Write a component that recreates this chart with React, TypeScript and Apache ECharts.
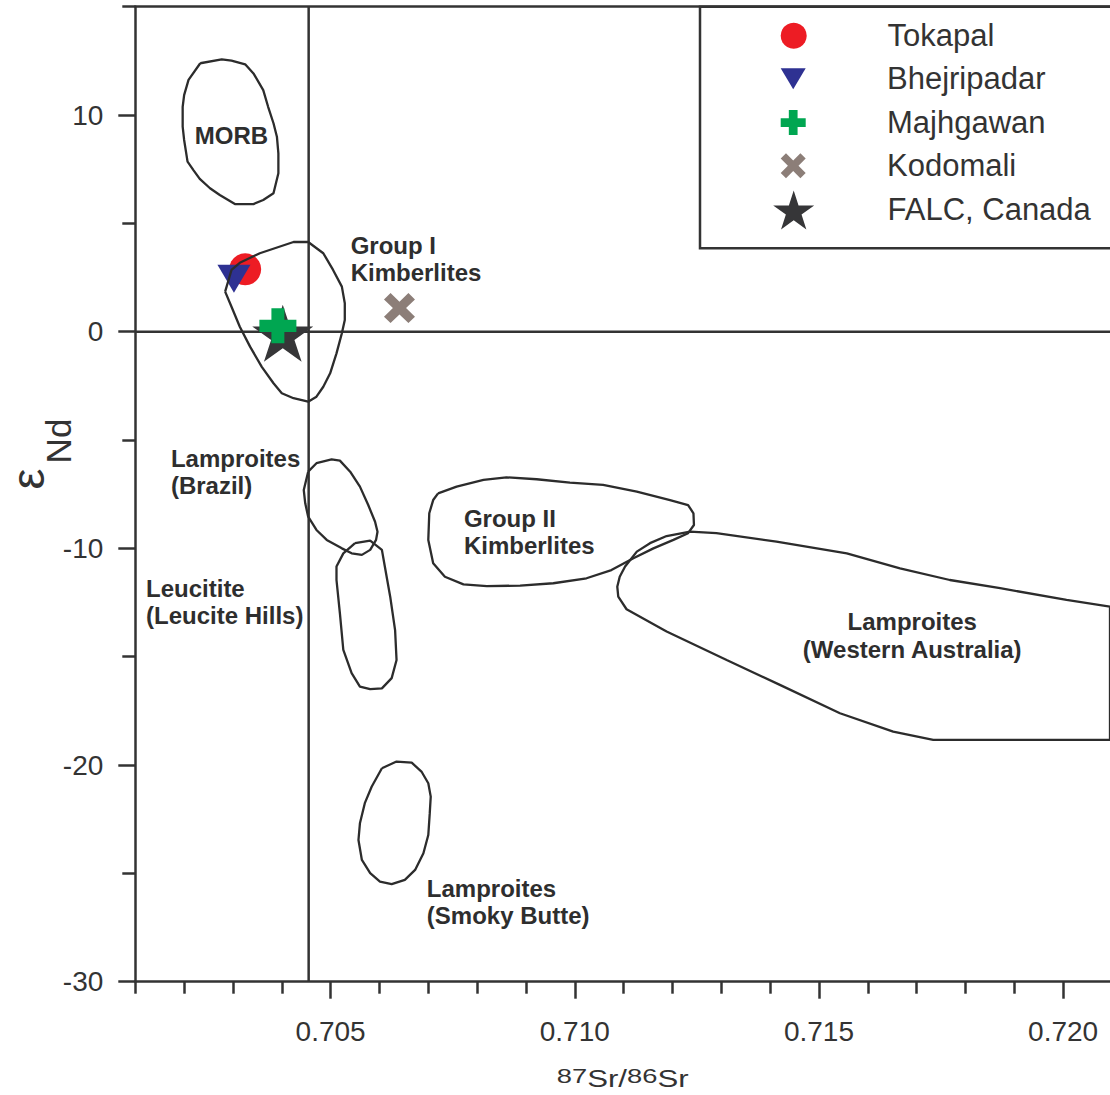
import React, { useEffect, useRef } from "react";
import * as echarts from "echarts";

// ---------- axes ----------
const X_MIN = 0.701;
const X_MAX = 0.72096;
const Y_MIN = -30;
const Y_MAX = 15;
const xMajorTicks = [0.705, 0.71, 0.715, 0.72];
const xMinorTicks = [0.701, 0.702, 0.703, 0.704, 0.706, 0.707, 0.708, 0.709, 0.711, 0.712, 0.713, 0.714, 0.716, 0.717, 0.718, 0.719];
const yMajorTicks = [-30, -20, -10, 0, 10];
const yMinorTicks = [-25, -15, -5, 5, 15];

// reference lines (Bulk Earth Sr, CHUR eNd)
const bulkEarthSr = 0.70455;
const churNd = 0;

// ---------- samples ----------
const tokapal = [[0.70325, 2.88]];
const bhejripadar = [[0.70302, 2.44]];
const majhgawan = [[0.70392, 0.27]];
const kodomali = [[0.70641, 1.09]];
const falc = [[0.70402, -0.07]];

// ---------- field outlines ----------
const morb = [[0.70233, 12.39], [0.70277, 12.57], [0.70297, 12.51], [0.70325, 12.34], [0.70342, 11.92], [0.70362, 11.15], [0.70372, 10.38], [0.70383, 9.62], [0.7039, 9.0], [0.70393, 8.23], [0.70393, 7.31], [0.70383, 6.39], [0.70362, 6.08], [0.70342, 5.89], [0.70304, 5.89], [0.70273, 6.31], [0.70253, 6.62], [0.70232, 7.05], [0.70219, 7.46], [0.70207, 7.85], [0.702, 8.85], [0.70197, 9.46], [0.70197, 10.38], [0.702, 10.92], [0.70209, 11.62], [0.70233, 12.39]];
const groupI = [[0.70284, 1.85], [0.70297, 2.85], [0.70314, 3.18], [0.70355, 3.62], [0.70424, 4.14], [0.70454, 4.14], [0.70485, 3.62], [0.70505, 2.85], [0.70523, 2.08], [0.70529, 1.31], [0.70529, 0.54], [0.70523, -0.07], [0.70512, -1.0], [0.70499, -1.92], [0.70485, -2.54], [0.70471, -3.0], [0.70454, -3.23], [0.70424, -3.07], [0.704, -2.84], [0.70383, -2.38], [0.70359, -1.62], [0.70335, -0.69], [0.70314, 0.23], [0.70297, 1.15], [0.70284, 1.85]];
const brazil = [[0.70454, -6.46], [0.70471, -6.07], [0.70502, -5.89], [0.70519, -5.95], [0.7054, -6.46], [0.7056, -7.15], [0.70577, -8.0], [0.70591, -8.77], [0.70596, -9.23], [0.70593, -9.61], [0.70581, -10.07], [0.70564, -10.3], [0.70543, -10.23], [0.70523, -10.0], [0.70492, -9.61], [0.70471, -9.15], [0.70454, -8.54], [0.70448, -7.92], [0.70445, -7.31], [0.70454, -6.46]];
const leuciteHills = [[0.7055, -9.76], [0.70581, -9.64], [0.70605, -10.07], [0.70611, -10.84], [0.70622, -12.23], [0.70632, -13.77], [0.70635, -15.15], [0.70625, -15.99], [0.70605, -16.46], [0.70581, -16.5], [0.7056, -16.38], [0.70543, -15.76], [0.70526, -14.69], [0.70519, -13.0], [0.70512, -11.46], [0.70512, -10.84], [0.70526, -10.23], [0.7055, -9.76]];
const groupII = [[0.7072, -7.46], [0.70758, -7.15], [0.70813, -6.84], [0.7086, -6.72], [0.70922, -6.81], [0.7099, -6.97], [0.71058, -7.07], [0.71127, -7.38], [0.71195, -7.77], [0.71232, -8.0], [0.71243, -8.38], [0.71244, -8.92], [0.71232, -9.3], [0.71202, -9.61], [0.71161, -10.0], [0.7112, -10.46], [0.71075, -11.0], [0.71024, -11.38], [0.70956, -11.61], [0.70888, -11.72], [0.7082, -11.74], [0.70772, -11.66], [0.70734, -11.31], [0.7071, -10.69], [0.707, -9.61], [0.70702, -8.38], [0.7071, -7.77], [0.7072, -7.46]];
const westernAustralia = [[0.71236, -9.23], [0.7129, -9.3], [0.71413, -9.69], [0.71557, -10.23], [0.71666, -10.92], [0.71768, -11.46], [0.71871, -11.84], [0.72007, -12.38], [0.72096, -12.69], [0.72096, -18.84], [0.71734, -18.84], [0.71652, -18.46], [0.71543, -17.61], [0.7142, -16.3], [0.71311, -15.15], [0.71188, -13.84], [0.71106, -12.81], [0.71089, -12.23], [0.71087, -11.77], [0.71092, -11.31], [0.71103, -10.84], [0.71127, -10.15], [0.71154, -9.76], [0.71188, -9.43], [0.71236, -9.23]];
const smokyButte = [[0.70605, -20.15], [0.70635, -19.84], [0.70666, -19.89], [0.70686, -20.3], [0.707, -20.84], [0.70705, -21.46], [0.70703, -22.22], [0.707, -23.23], [0.7069, -24.07], [0.70673, -24.84], [0.70652, -25.3], [0.70625, -25.5], [0.70601, -25.38], [0.70581, -24.99], [0.70564, -24.38], [0.70557, -23.46], [0.7056, -22.69], [0.7057, -21.76], [0.70584, -21.0], [0.70605, -20.15]];

// field names, anchored (top-left, or top-centre) in data coordinates
const regionNames = ["MORB", "Group I\nKimberlites", "Lamproites\n(Brazil)", "Leucitite\n(Leucite Hills)", "Group II\nKimberlites", "Lamproites\n(Western Australia)", "Lamproites\n(Smoky Butte)"];
const regionAnchorX = [0.70223, 0.70542, 0.70174, 0.70123, 0.70774, 0.71692, 0.70698];
const regionAnchorY = [9.69, 4.61, -5.23, -11.23, -8.0, -12.77, -25.08];
const regionAlign = ["left", "left", "left", "left", "left", "center", "left"];

const FONT = "'Liberation Sans', Arial, Helvetica, sans-serif";
const INK = "#333333";

const STAR_PATH = "path://M50 0 L61.23 34.55 L97.55 34.55 L68.17 55.9 L79.39 90.45 L50 69.1 L20.61 90.45 L31.83 55.9 L2.45 34.55 L38.77 34.55 Z";
const TRI_DOWN = "path://M0 0 L100 0 L50 84 Z";
const PLUS_PATH = "path://M32.5 0 L67.5 0 L67.5 32.5 L100 32.5 L100 67.5 L67.5 67.5 L67.5 100 L32.5 100 L32.5 67.5 L0 67.5 L0 32.5 L32.5 32.5 Z";
const X_PATH = "path://M0 21.2 L21.2 0 L50 28.8 L78.8 0 L100 21.2 L71.2 50 L100 78.8 L78.8 100 L50 71.2 L21.2 100 L0 78.8 L28.8 50 Z";

const samples = [
  { name: "Tokapal", data: tokapal, symbol: "circle", size: [32, 32], color: "#ED1C24", legendSize: [26, 26], row: 35.7 },
  { name: "Bhejripadar", data: bhejripadar, symbol: TRI_DOWN, size: [33, 28], color: "#2E3192", legendSize: [26, 21], row: 78.8 },
  { name: "FALC, Canada", data: falc, symbol: STAR_PATH, size: [61, 57], color: "#363638", legendSize: [41, 39], row: 210 },
  { name: "Majhgawan", data: majhgawan, symbol: PLUS_PATH, size: [37, 35], color: "#00A651", legendSize: [26, 25], row: 122.5 },
  { name: "Kodomali", data: kodomali, symbol: X_PATH, size: [31, 30], color: "#8C7E78", legendSize: [26, 25], row: 165.8 },
];

export default function App() {
  const ref = useRef<HTMLDivElement>(null);

  useEffect(() => {
    if (!ref.current) return;
    const chart = echarts.init(ref.current, null, { renderer: "svg" });

    const axisLine = { show: true, onZero: false, lineStyle: { color: INK, width: 2.5 } };
    const LEGEND_ICON_X = 793.7;
    const LEGEND_TEXT_X = 887.5;

    const legends = samples.map((s) => {
      const [w, h] = s.legendSize;
      const left = LEGEND_ICON_X - w / 2;
      return {
        data: [s.name],
        orient: "vertical",
        left,
        top: s.row - Math.max(h, 31) / 2,
        padding: 0,
        itemWidth: w,
        itemHeight: h,
        selectedMode: false,
        textStyle: {
          fontSize: 31,
          lineHeight: 31,
          color: INK,
          fontFamily: FONT,
          padding: [0, 0, 0, LEGEND_TEXT_X - (left + w + 5)],
        },
      };
    });

    const regionSeries = [morb, groupI, brazil, leuciteHills, groupII, westernAustralia, smokyButte].map((d) => ({
      type: "line",
      data: d,
      showSymbol: false,
      symbol: "none",
      silent: true,
      z: 3,
      lineStyle: { color: "#2c2c2c", width: 2.3 },
    }));

    const option = {
      animation: false,
      grid: { left: 135.3, top: 6.7, right: 0, bottom: 113.3, containLabel: false },
      xAxis: [
        {
          type: "value",
          position: "bottom",
          min: X_MIN,
          max: X_MAX,
          interval: 0.001,
          axisLine,
          splitLine: { show: false },
          axisTick: { show: true, customValues: xMajorTicks, length: 17, lineStyle: { color: INK, width: 2.5 } },
          axisLabel: {
            show: true,
            customValues: xMajorTicks,
            margin: 36,
            fontSize: 28,
            color: INK,
            fontFamily: FONT,
            formatter: (v: number) => v.toFixed(3),
          },
        },
        {
          type: "value",
          position: "bottom",
          min: X_MIN,
          max: X_MAX,
          interval: 0.001,
          axisLine: { show: false, onZero: false },
          splitLine: { show: false },
          axisTick: { show: true, customValues: xMinorTicks, length: 12, lineStyle: { color: INK, width: 2.5 } },
          axisLabel: { show: false },
        },
        {
          type: "value",
          position: "top",
          min: X_MIN,
          max: X_MAX,
          axisLine,
          splitLine: { show: false },
          axisTick: { show: false },
          axisLabel: { show: false },
        },
      ],
      yAxis: [
        {
          type: "value",
          position: "left",
          min: Y_MIN,
          max: Y_MAX,
          interval: 10,
          axisLine,
          splitLine: { show: false },
          axisTick: { show: true, customValues: yMajorTicks, length: 17, lineStyle: { color: INK, width: 2.5 } },
          axisLabel: {
            show: true,
            customValues: yMajorTicks,
            margin: 32,
            fontSize: 28,
            color: INK,
            fontFamily: FONT,
            formatter: (v: number) => (v % 10 === 0 ? String(v) : ""),
          },
        },
        {
          type: "value",
          position: "left",
          min: Y_MIN,
          max: Y_MAX,
          interval: 5,
          axisLine: { show: false, onZero: false },
          splitLine: { show: false },
          axisTick: { show: true, customValues: yMinorTicks, length: 13, lineStyle: { color: INK, width: 2.5 } },
          axisLabel: { show: false },
        },
      ],
      legend: legends,
      graphic: [
        {
          type: "rect",
          shape: { x: 700, y: 6.7, width: 440, height: 241.6 },
          style: { fill: "none", stroke: INK, lineWidth: 2.5 },
          z: 10,
        },
        {
          type: "text",
          x: 27.5,
          y: 479,
          rotation: Math.PI / 2,
          style: { text: "ε", fontSize: 47, lineHeight: 36, fontFamily: FONT, fill: INK, align: "center", verticalAlign: "middle" },
        },
        {
          type: "text",
          x: 58,
          y: 441,
          rotation: Math.PI / 2,
          style: { text: "Nd", fontSize: 35, lineHeight: 35, fontFamily: FONT, fill: INK, align: "center", verticalAlign: "middle" },
        },
        {
          type: "text",
          x: 622.7,
          y: 1093,
          scaleX: 1.3,
          style: {
            text: "{s|87}{n|Sr/}{s|86}{n|Sr}",
            align: "center",
            verticalAlign: "bottom",
            fill: INK,
            rich: {
              s: { fontSize: 21, lineHeight: 16, verticalAlign: "top", fontFamily: FONT, fill: INK },
              n: { fontSize: 24, lineHeight: 28, fontFamily: FONT, fill: INK },
            },
          },
        },
      ],
      series: [
        {
          type: "line",
          data: [[bulkEarthSr, Y_MIN], [bulkEarthSr, Y_MAX]],
          showSymbol: false,
          symbol: "none",
          silent: true,
          z: 1,
          lineStyle: { color: INK, width: 2.5 },
        },
        {
          type: "line",
          data: [[X_MIN, churNd], [X_MAX, churNd]],
          showSymbol: false,
          symbol: "none",
          silent: true,
          z: 1,
          lineStyle: { color: INK, width: 2.5 },
        },
        ...samples.map((s) => ({
          type: "scatter",
          name: s.name,
          data: s.data,
          symbol: s.symbol,
          symbolSize: s.size,
          itemStyle: { color: s.color, opacity: 1 },
          silent: true,
          z: 2,
        })),
        ...regionSeries,
        {
          type: "scatter",
          data: regionNames.map((n, i) => ({
            value: [regionAnchorX[i], regionAnchorY[i]],
            name: n,
            label: { align: regionAlign[i] },
          })),
          symbolSize: 1,
          itemStyle: { color: "#ffffff", opacity: 0 },
          silent: true,
          z: 4,
          label: {
            show: true,
            formatter: "{b}",
            position: [0, 0],
            align: "left",
            verticalAlign: "top",
            fontSize: 24,
            fontWeight: "bold",
            lineHeight: 27.5,
            color: "#2e2e2e",
            opacity: 1,
            textBorderWidth: 0,
            textBorderColor: "transparent",
            textShadowBlur: 0,
            fontFamily: FONT,
          },
        },
      ],
    };

    chart.setOption(option as any);
    return () => chart.dispose();
  }, []);

  return (
    <div
      ref={ref}
      style={{ position: "absolute", left: 0, top: 0, width: 1110, height: 1095, background: "#ffffff" }}
    />
  );
}
